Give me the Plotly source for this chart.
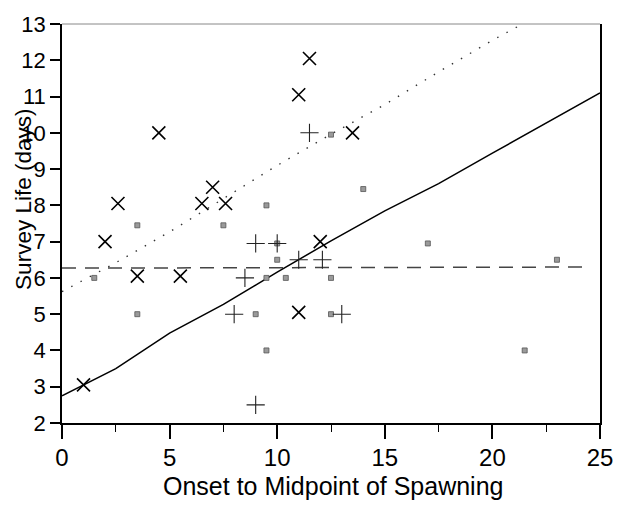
import plotly.graph_objects as go

# X-shaped markers
x_cross = [1, 2, 2.6, 3.5, 4.5, 5.5, 6.5, 7, 7.6, 11, 11, 11.5, 12, 13.5]
y_cross = [3.05, 7, 8.05, 6.05, 10, 6.05, 8.05, 8.5, 8.05, 11.05, 5.05, 12.05, 7, 10]

# plus-shaped markers
x_plus = [8, 8.5, 9, 9, 10, 11, 11.5, 12.1, 13]
y_plus = [5, 6, 6.95, 2.5, 6.95, 6.5, 10, 6.5, 5]

# small "≡" markers
x_eq = [1.5, 3.5, 3.5, 7.5, 9, 9.5, 9.5, 9.5, 10, 10, 10.4, 12.5, 12.5, 12.5, 14, 17, 21.5, 23]
y_eq = [6, 7.45, 5, 7.45, 5, 8, 6, 4, 6.95, 6.5, 6, 9.95, 6, 5, 8.45, 6.95, 4, 6.5]

# fitted lines
solid_x = [0, 2.5, 5, 7.5, 10, 12.5, 15, 17.5, 20, 22.5, 25]
solid_y = [2.75, 3.5, 4.48, 5.27, 6.16, 7.02, 7.85, 8.6, 9.44, 10.28, 11.1]

dotted_x = [0, 2.5, 5, 7.5, 10, 12.5, 15, 17.5, 20, 21.4]
dotted_y = [5.62, 6.42, 7.27, 8.19, 9.1, 9.96, 10.78, 11.68, 12.55, 13.0]

dashed_x = [0, 24.5]
dashed_y = [6.27, 6.3]

FONT = "Liberation Sans, Arial, sans-serif"

fig = go.Figure()
fig.add_trace(go.Scatter(x=dashed_x, y=dashed_y, mode="lines",
                         line=dict(color="#444", width=1.5, dash="14px,9px"),
                         showlegend=False, hoverinfo="skip"))
fig.add_trace(go.Scatter(x=dotted_x, y=dotted_y, mode="lines",
                         line=dict(color="#333", width=1.4, dash="1.5px,9px"),
                         showlegend=False, hoverinfo="skip"))
fig.add_trace(go.Scatter(x=solid_x, y=solid_y, mode="lines",
                         line=dict(color="#000", width=1.5),
                         showlegend=False, hoverinfo="skip"))
fig.add_trace(go.Scatter(x=x_eq, y=y_eq, mode="markers",
                         marker=dict(symbol="square", size=5, color="#9a9a9a",
                                     line=dict(color="#555", width=0.8)),
                         showlegend=False))
fig.add_trace(go.Scatter(x=x_plus, y=y_plus, mode="markers",
                         marker=dict(symbol="cross-thin", size=13,
                                     line=dict(color="#222", width=1.1)),
                         showlegend=False))
fig.add_trace(go.Scatter(x=x_cross, y=y_cross, mode="markers",
                         marker=dict(symbol="x-thin", size=13,
                                     line=dict(color="#000", width=1.6)),
                         showlegend=False))

fig.update_layout(
    width=625, height=511,
    margin=dict(l=62, r=14, t=15, b=88),
    paper_bgcolor="white", plot_bgcolor="white",
    font=dict(family=FONT, size=21, color="black"),
    xaxis=dict(range=[0, 25], tickvals=[0, 5, 10, 15, 20, 25],
               showgrid=False, zeroline=False,
               showline=True, linecolor="black", linewidth=1.5,
               ticks="outside", ticklen=14, tickwidth=1.5, tickcolor="black",
               ticklabelstandoff=-2,
               minor=dict(dtick=2.5, ticks="outside", ticklen=7, tickwidth=1.2,
                          tickcolor="black", showgrid=False),
               tickfont=dict(family=FONT, size=24)),
    yaxis=dict(range=[2, 13], dtick=1,
               showgrid=False, zeroline=False,
               showline=True, linecolor="black", linewidth=1.5, mirror=True,
               ticks="outside", ticklen=10, tickwidth=1.5, tickcolor="black",
               tickfont=dict(family=FONT, size=22)),
    shapes=[dict(type="line", xref="paper", yref="paper", x0=0, x1=1, y0=1, y1=1,
                 line=dict(color="#888", width=1))],
    annotations=[
        dict(text="Survey Life (days)", xref="paper", yref="paper",
             x=-0.073, y=0.561, textangle=-90, showarrow=False,
             font=dict(family=FONT, size=22.5), xanchor="center", yanchor="middle"),
        dict(text="Onset to Midpoint of Spawning", xref="paper", yref="paper",
             x=0.504, y=-0.159, showarrow=False,
             font=dict(family=FONT, size=25), xanchor="center", yanchor="middle"),
    ],
)

fig.write_html("out.html")
